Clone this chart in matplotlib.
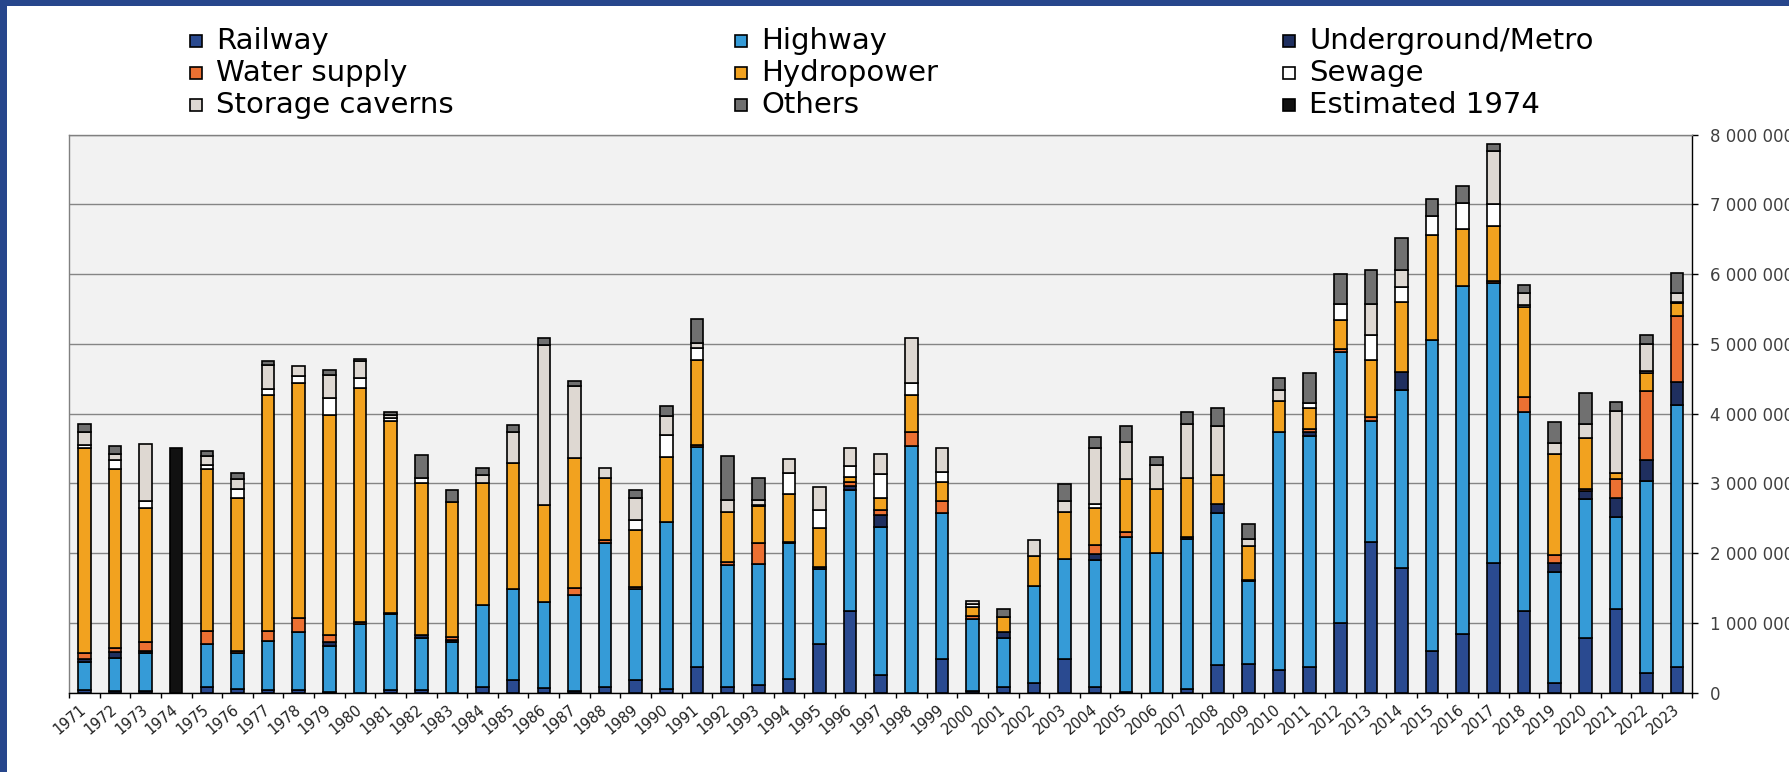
import numpy as np
import matplotlib
matplotlib.use('Agg')
import matplotlib.pyplot as plt
from matplotlib.patches import Rectangle
from matplotlib.ticker import FuncFormatter, FixedLocator

# years and tunnelling volumes per use (million units)
years = list(range(1971, 2024))

railway = [0.03, 0.02, 0.02, 0, 0.085, 0.05, 0.03, 0.03, 0.01, 0.0,
           0.04, 0.03, 0.0, 0.08, 0.175, 0.07, 0.02, 0.08, 0.175, 0.05,
           0.36, 0.08, 0.106, 0.20, 0.695, 1.167, 0.255, 0.0, 0.483, 0.02,
           0.08, 0.138, 0.483, 0.085, 0.01, 0.0, 0.053, 0.398, 0.414, 0.318,
           0.36, 0.997, 2.154, 1.79, 0.60, 0.838, 1.862, 1.167, 0.138, 0.775,
           1.199, 0.281, 0.361]
highway = [0.41, 0.48, 0.54, 0, 0.61, 0.51, 0.71, 0.835, 0.66, 0.98,
           1.09, 0.755, 0.72, 1.17, 1.31, 1.235, 1.385, 2.06, 1.31, 2.395,
           3.157, 1.75, 1.74, 1.94, 1.072, 1.74, 2.122, 3.533, 2.09, 1.03,
           0.695, 1.39, 1.427, 1.815, 2.223, 2.005, 2.147, 2.18, 1.178, 3.422,
           3.316, 3.883, 1.735, 2.55, 4.455, 4.997, 4.016, 2.854, 1.591, 2.0,
           1.321, 2.748, 3.756]
metro = [0.04, 0.08, 0.03, 0, 0, 0, 0, 0, 0.05, 0,
         0, 0.035, 0.04, 0, 0, 0, 0, 0, 0, 0,
         0, 0, 0, 0.02, 0.035, 0.053, 0.17, 0, 0, 0,
         0.09, 0, 0, 0.09, 0, 0, 0.03, 0.128, 0.02, 0,
         0.064, 0, 0, 0.25, 0, 0, 0, 0, 0.133, 0.116,
         0.265, 0.303, 0.339]
water = [0.08, 0.06, 0.13, 0, 0.18, 0.035, 0.135, 0.20, 0.11, 0.03,
         0.01, 0, 0.04, 0, 0, 0, 0.095, 0.05, 0.035, 0,
         0.038, 0.04, 0.294, 0, 0, 0.053, 0.07, 0.197, 0.175, 0.053,
         0, 0, 0, 0.13, 0.075, 0, 0, 0, 0, 0,
         0.04, 0.043, 0.063, 0, 0, 0, 0.02, 0.223, 0.106, 0.032,
         0.281, 0.992, 0.944]
hydro = [2.94, 2.57, 1.93, 0, 2.325, 2.20, 3.39, 3.38, 3.15, 3.36,
         2.75, 2.18, 1.93, 1.76, 1.81, 1.38, 1.87, 0.89, 0.81, 0.93,
         1.21, 0.72, 0.53, 0.68, 0.56, 0.077, 0.17, 0.53, 0.276, 0.117,
         0.223, 0.424, 0.679, 0.52, 0.758, 0.913, 0.847, 0.413, 0.493, 0.44,
         0.294, 0.424, 0.823, 1.01, 1.50, 0.812, 0.796, 1.289, 1.454, 0.727,
         0.08, 0.254, 0.186]
sewage = [0.055, 0.13, 0.10, 0, 0.06, 0.13, 0.085, 0.09, 0.24, 0.14,
          0.05, 0.08, 0, 0, 0, 0, 0, 0, 0.15, 0.315,
          0.175, 0, 0.025, 0.31, 0.255, 0.16, 0.345, 0.185, 0.132, 0.043,
          0, 0, 0, 0.07, 0, 0, 0, 0, 0, 0,
          0.08, 0.229, 0.35, 0.21, 0.286, 0.372, 0.318, 0.02, 0, 0,
          0, 0.037, 0.014]
storage = [0.18, 0.08, 0.82, 0, 0.125, 0.14, 0.35, 0.15, 0.34, 0.25,
           0.04, 0, 0, 0.11, 0.435, 2.305, 1.02, 0.145, 0.31, 0.28,
           0.07, 0.17, 0.065, 0.20, 0.325, 0.25, 0.29, 0.635, 0.351, 0.053,
           0, 0.228, 0.159, 0.79, 0.52, 0.345, 0.769, 0.706, 0.095, 0.16,
           0, 0, 0.445, 0.25, 0, 0, 0.753, 0.175, 0.159, 0.201,
           0.891, 0.388, 0.135]
others = [0.12, 0.12, 0, 0, 0.08, 0.09, 0.06, 0, 0.07, 0.02,
          0.04, 0.33, 0.18, 0.095, 0.105, 0.09, 0.08, 0, 0.115, 0.14,
          0.35, 0.625, 0.32, 0, 0, 0, 0, 0, 0, 0,
          0.112, 0, 0.239, 0.16, 0.234, 0.111, 0.174, 0.249, 0.213, 0.175,
          0.435, 0.424, 0.483, 0.465, 0.239, 0.249, 0.095, 0.117, 0.292, 0.451,
          0.127, 0.122, 0.276]
estimated = [0] * 53
estimated[3] = 3.50

series = [
    ('Railway', railway, '#2a4a90'),
    ('Highway', highway, '#359bd7'),
    ('Underground/Metro', metro, '#1f2f5f'),
    ('Water supply', water, '#ec7032'),
    ('Hydropower', hydro, '#f2a21f'),
    ('Sewage', sewage, '#ffffff'),
    ('Storage caverns', storage, '#ded8d2'),
    ('Others', others, '#707070'),
    ('Estimated 1974', estimated, '#111111'),
]

W, H = 1790, 772
fig = plt.figure(figsize=(W / 100, H / 100), dpi=100)
ax = fig.add_axes([69 / W, 1 - 692.5 / H, (1692.5 - 69) / W, (692.5 - 134.7) / H])
ax.set_facecolor('#f2f2f2')

x = np.arange(len(years))
bottom = np.zeros(len(years))
for name, vals, col in series:
    v = np.array(vals) * 1e6
    m = v > 0
    ax.bar(x[m], v[m], bottom=bottom[m], width=0.41, color=col,
           edgecolor='black', linewidth=1.2, zorder=3)
    bottom += v

ax.set_xlim(-0.5, len(years) - 0.5)
ax.set_ylim(0, 8e6)

# y axis on the right
ax.yaxis.tick_right()
ax.set_yticks(np.arange(0, 8.01e6, 1e6))
ax.yaxis.set_major_formatter(FuncFormatter(lambda v, p: f"{int(v):,}".replace(',', ' ')))
ax.tick_params(axis='y', length=4.5, width=1, color='black', labelsize=12,
               labelcolor='#404040', pad=8)
ax.grid(axis='y', color='#858585', linewidth=1.0, zorder=0)
ax.set_axisbelow(True)

# x axis: labels at bar centres, ticks between bars
ax.set_xticks(x)
ax.set_xticklabels([str(y) for y in years], rotation=40, ha='right', va='center',
                   rotation_mode='anchor', fontsize=10.5, color='#202020')
ax.tick_params(axis='x', which='major', length=0, pad=11)
ax.xaxis.set_minor_locator(FixedLocator(np.arange(-0.5, len(years), 1.0)))
ax.tick_params(axis='x', which='minor', length=3.5, width=1, color='black')

for s in ['left', 'top']:
    ax.spines[s].set_color('#808080')
    ax.spines[s].set_linewidth(1.0)
for s in ['right', 'bottom']:
    ax.spines[s].set_color('black')
    ax.spines[s].set_linewidth(1.0)

# legend drawn by hand, 3 columns x 3 rows
col_x = [190, 735, 1283]
row_y = [41, 73, 105]
for i, (name, vals, col) in enumerate(series):
    cx = col_x[i % 3]
    cy = row_y[i // 3]
    fig.patches.append(Rectangle((cx / W, 1 - (cy + 6) / H), 12 / W, 12 / H,
                                 transform=fig.transFigure, facecolor=col,
                                 edgecolor='black', linewidth=1.2))
    fig.text((cx + 26) / W, 1 - cy / H, name, fontsize=21, va='center',
             ha='left', color='black')

# blue frame on top and left edge
fig.patches.append(Rectangle((0, 1 - 6 / H), 1, 6 / H, transform=fig.transFigure,
                             facecolor='#27468c', edgecolor='none'))
fig.patches.append(Rectangle((0, 0), 7 / W, 1, transform=fig.transFigure,
                             facecolor='#27468c', edgecolor='none'))

fig.savefig('out.png', dpi=100)
